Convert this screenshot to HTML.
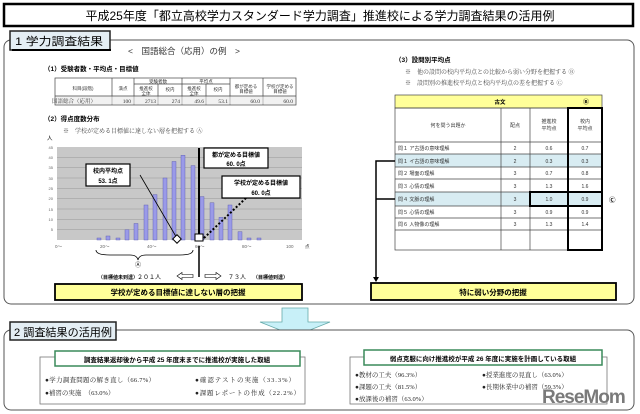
<!DOCTYPE html>
<html><head><meta charset="utf-8"><style>
body{margin:0;background:#fff}
svg{display:block;font-family:"Liberation Sans","Noto Sans CJK JP",sans-serif}
.s{font-family:"Liberation Serif","Noto Serif CJK SC",serif}
</style></head><body>
<svg width="640" height="414" viewBox="0 0 640 414" xmlns="http://www.w3.org/2000/svg">
<rect width="640" height="414" fill="#fff"/>
<!-- title -->
<rect x="4" y="4" width="629" height="22" fill="#fff" stroke="#000" stroke-width="2.5"/>
<text x="320" y="20" font-size="12" text-anchor="middle">平成25年度「都立高校学力スタンダード学力調査」推進校による学力調査結果の活用例</text>
<!-- section 1 -->
<rect x="4" y="40" width="630" height="264" rx="7" fill="#fff" stroke="#555" stroke-width="1"/>
<rect x="10" y="31" width="100" height="19" fill="#e4eef4" stroke="#222" stroke-width="1.5"/>
<line x1="12" y1="50" x2="111" y2="50" stroke="#000" stroke-width="2"/>
<text x="15" y="45" font-size="11" textLength="88" lengthAdjust="spacingAndGlyphs">1 学力調査結果</text>
<text x="128" y="54" font-size="8.5" fill="#333">&lt;　国語総合（応用）の例　&gt;</text>
<text x="44" y="71" font-size="6.5" font-weight="bold">（1）受験者数・平均点・目標値</text>
<!-- table 1 -->
<g stroke="#444" stroke-width="0.7" fill="none">
<rect x="55" y="78" width="241" height="27"/>
<line x1="55" y1="96" x2="296" y2="96"/>
<line x1="112" y1="78" x2="112" y2="105"/>
<line x1="134" y1="78" x2="134" y2="105"/>
<line x1="182" y1="78" x2="182" y2="105"/>
<line x1="230" y1="78" x2="230" y2="105"/>
<line x1="263" y1="78" x2="263" y2="105"/>
<line x1="134" y1="84" x2="230" y2="84"/>
<line x1="158" y1="84" x2="158" y2="105"/>
<line x1="206" y1="84" x2="206" y2="105"/>
</g>
<rect x="55.5" y="96.5" width="240" height="8" fill="#e8e8e8" opacity="0.6"/>
<g font-size="4.5" fill="#333" text-anchor="middle">
<text x="83" y="90">科目(段階)</text><text x="123" y="90">満点</text>
<text x="158" y="83">受験者数</text><text x="206" y="83">平均点</text>
<text x="146" y="90">推進校</text><text x="146" y="95">全体</text><text x="170" y="91">校内</text>
<text x="194" y="90">推進校</text><text x="194" y="95">全体</text><text x="218" y="91">校内</text>
<text x="246" y="88">都が定める</text><text x="246" y="93">目標値</text>
<text x="280" y="88">学校が定める</text><text x="280" y="93">目標値</text>
</g>
<g font-size="5.5" fill="#333" class="s" text-anchor="end">
<text x="96" y="103">国語総合（応用）</text><text x="131" y="103">100</text><text x="156" y="103">2713</text><text x="180" y="103">274</text><text x="204" y="103">49.6</text><text x="228" y="103">53.1</text><text x="260" y="103">60.0</text><text x="293" y="103">60.0</text>
</g>
<text x="44" y="121" font-size="6.5" font-weight="bold">（2）得点度数分布</text>
<text x="63" y="133" font-size="6" fill="#444" class="s">※　学校が定める目標値に達しない層を把握する Ⓐ</text>
<text x="47" y="140" font-size="5.5">人</text>
<!-- chart -->
<rect x="57" y="147" width="245" height="93" fill="#c8c8c8"/>
<g stroke="#999" stroke-width="0.5">
<line x1="57" y1="157.3" x2="302" y2="157.3"/><line x1="57" y1="167.7" x2="302" y2="167.7"/><line x1="57" y1="178" x2="302" y2="178"/><line x1="57" y1="188.3" x2="302" y2="188.3"/><line x1="57" y1="198.7" x2="302" y2="198.7"/><line x1="57" y1="209" x2="302" y2="209"/><line x1="57" y1="219.3" x2="302" y2="219.3"/><line x1="57" y1="229.7" x2="302" y2="229.7"/>
</g>
<g font-size="4" fill="#666" text-anchor="end">
<text x="53" y="149">45</text><text x="53" y="159">40</text><text x="53" y="169">35</text><text x="53" y="180">30</text><text x="53" y="190">25</text><text x="53" y="200">20</text><text x="53" y="211">15</text><text x="53" y="221">10</text><text x="53" y="231">5</text>
</g>
<g fill="#9a9ae8" stroke="#5555aa" stroke-width="0.4">
<rect x="97" y="238" width="4" height="2"/><rect x="106" y="236" width="4" height="4"/><rect x="116" y="238" width="4" height="2"/><rect x="125" y="229.7" width="4" height="10.3"/><rect x="134" y="223.5" width="4" height="16.5"/><rect x="144" y="205" width="4" height="35"/><rect x="153" y="194.6" width="4" height="45.4"/><rect x="163" y="178" width="4" height="62"/><rect x="172" y="161.5" width="4" height="78.5"/><rect x="181" y="155.3" width="4" height="84.7"/><rect x="191" y="165.6" width="4" height="74.4"/><rect x="200" y="196.6" width="4" height="43.4"/><rect x="210" y="202.8" width="4" height="37.2"/><rect x="219" y="217.3" width="4" height="22.7"/><rect x="228" y="205" width="4" height="35"/><rect x="238" y="231.7" width="4" height="8.3"/><rect x="247" y="238" width="4" height="2"/><rect x="257" y="238" width="4" height="2"/>
</g>
<g font-size="4.5" fill="#666">
<text x="55" y="248">0〜</text><text x="100" y="248">20〜</text><text x="147" y="248">40〜</text><text x="195" y="248">60〜</text><text x="242" y="248">80〜</text><text x="286" y="248">100</text><text x="305" y="248" fill="#333">点</text>
</g>
<line x1="140" y1="175" x2="178" y2="240" stroke="#000" stroke-width="0.8"/>
<rect x="174" y="236" width="6" height="6" fill="#fff" stroke="#000" transform="rotate(45 177 239)"/>
<line x1="199" y1="148" x2="199" y2="240" stroke="#000" stroke-width="2"/>
<line x1="204" y1="238" x2="246" y2="198" stroke="#000" stroke-width="2" stroke-dasharray="2,2"/>
<rect x="195" y="234" width="8" height="7" fill="#fff" stroke="#000" stroke-width="1"/>
<rect x="86" y="164" width="44" height="22" fill="#fff" stroke="#000" stroke-width="1.2"/>
<text x="108" y="173" font-size="6" font-weight="bold" text-anchor="middle">校内平均点</text>
<text x="108" y="183" font-size="6" font-weight="bold" text-anchor="middle">53. 1点</text>
<rect x="204" y="148" width="64" height="20" fill="#fff" stroke="#000" stroke-width="1.2"/>
<text x="236" y="157" font-size="6" font-weight="bold" text-anchor="middle">都が定める目標値</text>
<text x="236" y="166" font-size="6" font-weight="bold" text-anchor="middle">60. 0点</text>
<rect x="222" y="176" width="78" height="22" fill="#fff" stroke="#000" stroke-width="1.2"/>
<text x="261" y="185" font-size="6" font-weight="bold" text-anchor="middle">学校が定める目標値</text>
<text x="261" y="195" font-size="6" font-weight="bold" text-anchor="middle">60. 0点</text>
<path d="M96 250 Q96 255 110 255 L130 255 Q137 255 138 260 Q139 255 146 255 L180 255 Q193 255 193 250" fill="none" stroke="#000" stroke-width="0.8"/>
<text x="138" y="267" font-size="6" text-anchor="middle">Ⓐ</text>
<line x1="199" y1="246" x2="199" y2="277" stroke="#000" stroke-width="1.5"/>
<text x="98" y="279" font-size="5" font-weight="bold">（目標値未到達）</text>
<text x="137" y="279" font-size="6">２０１人</text>
<path d="M177 276 L182 272.5 L182 274.5 L193 274.5 L193 277.5 L182 277.5 L182 279.5 Z" fill="#fff" stroke="#000" stroke-width="0.6"/>
<path d="M221 276 L216 272.5 L216 274.5 L205 274.5 L205 277.5 L216 277.5 L216 279.5 Z" fill="#fff" stroke="#000" stroke-width="0.6"/>
<text x="228" y="279" font-size="6">７３人</text>
<text x="253" y="279" font-size="5" font-weight="bold">（目標値到達）</text>
<rect x="55" y="284" width="247" height="16" fill="#ffff99" stroke="#000" stroke-width="1.8"/>
<text x="178" y="295" font-size="7.5" font-weight="bold" text-anchor="middle">学校が定める目標値に達しない層の把握</text>
<!-- right -->
<text x="395" y="62" font-size="6.5" font-weight="bold">（3）設問別平均点</text>
<text x="405" y="74" font-size="6" fill="#444" class="s">※　他の設問の校内平均点との比較から弱い分野を把握する Ⓑ</text>
<text x="405" y="85" font-size="6" fill="#444" class="s">※　設問別の推進校平均点と校内平均点の差を把握する Ⓒ</text>
<rect x="395" y="95" width="207" height="13" fill="#ffff99" stroke="#444" stroke-width="0.7"/>
<text x="500" y="104" font-size="5.5" font-weight="bold" text-anchor="middle">古文</text>
<text x="586" y="104" font-size="6" font-weight="bold" text-anchor="middle">Ⓑ</text>
<rect x="395" y="154" width="207" height="13" fill="#d8ecf2"/>
<rect x="395" y="192" width="207" height="14" fill="#d8ecf2"/>
<g stroke="#444" stroke-width="0.7" fill="none">
<rect x="395" y="108" width="207" height="142"/>
<line x1="395" y1="142" x2="602" y2="142"/><line x1="395" y1="154" x2="602" y2="154"/><line x1="395" y1="167" x2="602" y2="167"/><line x1="395" y1="179" x2="602" y2="179"/><line x1="395" y1="192" x2="602" y2="192"/><line x1="395" y1="206" x2="602" y2="206"/><line x1="395" y1="218" x2="602" y2="218"/><line x1="395" y1="230" x2="602" y2="230"/>
<line x1="501" y1="108" x2="501" y2="250"/><line x1="530" y1="108" x2="530" y2="250"/><line x1="568" y1="108" x2="568" y2="250"/>
</g>
<rect x="568" y="108" width="34" height="142" fill="none" stroke="#000" stroke-width="2"/>
<rect x="530" y="192" width="72" height="14" fill="none" stroke="#000" stroke-width="2"/>
<text x="609" y="202" font-size="6.5" font-weight="bold">Ⓒ</text>
<g font-size="5" fill="#333" text-anchor="middle">
<text x="448" y="127">何を問う出題か</text><text x="515" y="127">配点</text>
<text x="549" y="123">推進校</text><text x="549" y="130">平均点</text>
<text x="585" y="123">校内</text><text x="585" y="130">平均点</text>
</g>
<g font-size="5" fill="#333">
<text x="398" y="150">問１ ア古語の意味理解</text><text x="398" y="163">問１ イ古語の意味理解</text><text x="398" y="175">問２ 場面の理解</text><text x="398" y="188">問３ 心情の理解</text><text x="398" y="201">問４ 文脈の理解</text><text x="398" y="214">問５ 心情の理解</text><text x="398" y="226">問６ 人物像の理解</text>
</g>
<g font-size="5" fill="#333" text-anchor="middle">
<text x="515" y="150">2</text><text x="549" y="150">0.6</text><text x="585" y="150">0.7</text>
<text x="515" y="163">2</text><text x="549" y="163">0.3</text><text x="585" y="163">0.3</text>
<text x="515" y="175">3</text><text x="549" y="175">0.7</text><text x="585" y="175">0.8</text>
<text x="515" y="188">3</text><text x="549" y="188">1.3</text><text x="585" y="188">1.6</text>
<text x="515" y="201">3</text><text x="549" y="201">1.0</text><text x="585" y="201">0.9</text>
<text x="515" y="214">3</text><text x="549" y="214">0.9</text><text x="585" y="214">0.9</text>
<text x="515" y="226">3</text><text x="549" y="226">1.3</text><text x="585" y="226">1.4</text>
</g>
<path d="M395 161 L376 161 L376 279 M376 199 L395 199" fill="none" stroke="#000" stroke-width="1.5"/>
<path d="M373 277 L379 277 L376 282 Z" fill="#000"/>
<rect x="371" y="283" width="245" height="17" fill="#ffff99" stroke="#000" stroke-width="1.8"/>
<text x="493" y="295" font-size="7.5" font-weight="bold" text-anchor="middle">特に弱い分野の把握</text>
<!-- arrow -->
<path d="M282 308 L308 308 L308 322 L330 322 L295 336 L260 322 L282 322 Z" fill="#c8f0f8" stroke="#6aa" stroke-width="0.8"/>
<!-- section 2 -->
<rect x="4" y="330" width="630" height="80" rx="7" fill="#fff" stroke="#555" stroke-width="1"/>
<rect x="10" y="322" width="106" height="18" fill="#e4eef4" stroke="#222" stroke-width="1.5"/>
<text x="14" y="336" font-size="11" textLength="98" lengthAdjust="spacingAndGlyphs">2 調査結果の活用例</text>
<rect x="40" y="357" width="265" height="47" fill="#fff" stroke="#777" stroke-width="0.8"/>
<rect x="55" y="351" width="245" height="15" fill="#fff" stroke="#3a8a5a" stroke-width="1.5"/>
<text x="177" y="362" font-size="6.5" font-weight="bold" text-anchor="middle">調査結果返却後から平成 25 年度末までに推進校が実施した取組</text>
<g font-size="6.5" class="s" fill="#222">
<text x="45" y="382" textLength="110">●学力調査問題の解き直し（66.7%）</text><text x="195" y="382" textLength="100">●確認テストの実施（33.3%）</text>
<text x="45" y="395">●補習の実施　（63.0%）</text><text x="195" y="395" textLength="105">●課題レポートの作成（22.2%）</text>
</g>
<rect x="350" y="357" width="257" height="47" fill="#fff" stroke="#777" stroke-width="0.8"/>
<rect x="364" y="350" width="238" height="15" fill="#fff" stroke="#3a8a5a" stroke-width="1.5"/>
<text x="483" y="361" font-size="6.5" font-weight="bold" text-anchor="middle">弱点克服に向け推進校が平成 26 年度に実施を計画している取組</text>
<g font-size="6.5" class="s" fill="#222">
<text x="355" y="377">●教材の工夫（96.3%）</text><text x="482" y="377">●授業進度の見直し（63.0%）</text>
<text x="355" y="389">●課題の工夫（81.5%）</text><text x="482" y="389">●長期休業中の補習（59.3%）</text>
<text x="355" y="401">●放課後の補習（63.0%）</text>
</g>
<text x="542" y="403" font-size="19" font-weight="bold" fill="#7a7a7a" letter-spacing="-1">ReseMom</text>
</svg>
</body></html>
